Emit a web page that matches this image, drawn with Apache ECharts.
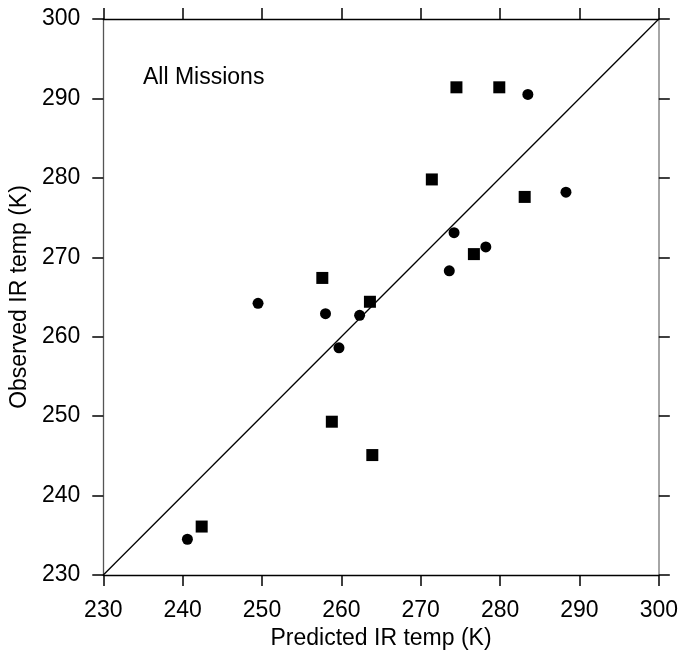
<!DOCTYPE html>
<html>
<head>
<meta charset="utf-8">
<script src="https://cdn.jsdelivr.net/npm/echarts@6/dist/echarts.min.js"></script>
<style>html,body{margin:0;padding:0;background:#fff;}#c{width:681px;height:656px;}</style>
</head>
<body>
<div id="c"></div>
<script>
// Square-marker series (Predicted, Observed)
const squaresX = [274.5, 279.9, 271.4, 283.1, 276.7, 263.6, 257.6, 258.8, 263.9, 242.4];
const squaresY = [291.4, 291.4, 279.8, 277.6, 270.4, 264.4, 267.4, 249.3, 245.1, 236.1];
// Circle-marker series (Predicted, Observed)
const circlesX = [283.5, 288.3, 274.2, 278.2, 273.6, 249.5, 258.0, 262.3, 259.7, 240.6];
const circlesY = [290.5, 278.2, 273.1, 271.3, 268.3, 264.2, 262.9, 262.7, 258.6, 234.5];
// 1:1 line
const lineX = [230, 300];
const lineY = [230, 300];
const tickLabels = ['230','240','250','260','270','280','290','300'];
const annotation = 'All Missions';
const xTitle = 'Predicted IR temp (K)';
const yTitle = 'Observed IR temp (K)';

const FONT = '"Liberation Sans", Arial, sans-serif';
const FS = 23;
const chart = echarts.init(document.getElementById('c'), null, {renderer: 'canvas'});
const axisBase = {
  type: 'value', min: 230, max: 300, interval: 10,
  splitLine: {show: false},
  axisTick: {show: true, inside: false, length: 11, lineStyle: {color: '#000', width: 1.5}},
};
chart.setOption({
  animation: false,
  backgroundColor: '#fff',
  grid: {left: 103, right: 22, top: 19, bottom: 81, containLabel: false},
  xAxis: [
    Object.assign({}, axisBase, {
      position: 'bottom',
      axisLine: {show: true, lineStyle: {color: '#000', width: 1.3}},
      axisLabel: {show: true, margin: 24, fontSize: FS, color: '#000', fontFamily: FONT,
        formatter: (v) => tickLabels[Math.round((v - 230) / 10)]},
      name: xTitle, nameLocation: 'middle', nameGap: 52,
      nameTextStyle: {fontSize: FS, color: '#000', fontFamily: FONT}
    }),
    Object.assign({}, axisBase, {
      position: 'top',
      axisLine: {show: true, lineStyle: {color: '#000', width: 1.3}},
      axisLabel: {show: false}
    })
  ],
  yAxis: [
    Object.assign({}, axisBase, {
      position: 'left',
      axisLine: {show: true, lineStyle: {color: '#555', width: 1.3}},
      axisLabel: {show: true, margin: 23, fontSize: FS, color: '#000', fontFamily: FONT,
        formatter: (v) => tickLabels[Math.round((v - 230) / 10)]},
      name: yTitle, nameLocation: 'middle', nameGap: 66,
      nameTextStyle: {fontSize: FS, color: '#000', fontFamily: FONT}
    }),
    Object.assign({}, axisBase, {
      position: 'right',
      axisLine: {show: true, lineStyle: {color: '#888', width: 1.5}},
      axisLabel: {show: false}
    })
  ],
  series: [
    {
      type: 'line', xAxisIndex: 0, yAxisIndex: 0,
      data: lineX.map((x, i) => [x, lineY[i]]),
      symbol: 'none', lineStyle: {color: '#000', width: 1.3}, silent: true, z: 1
    },
    {
      type: 'scatter', xAxisIndex: 0, yAxisIndex: 0,
      data: squaresX.map((x, i) => [x, squaresY[i]]),
      symbol: 'rect', symbolSize: 12, itemStyle: {color: '#000', opacity: 1}, z: 3
    },
    {
      type: 'scatter', xAxisIndex: 0, yAxisIndex: 0,
      data: circlesX.map((x, i) => [x, circlesY[i]]),
      symbol: 'circle', symbolSize: 11, itemStyle: {color: '#000', opacity: 1}, z: 3
    }
  ],
  graphic: [{
    type: 'text', left: 143, top: 66,
    style: {text: annotation, font: FS + 'px ' + FONT, fill: '#000'}
  }]
});
</script>
</body>
</html>
